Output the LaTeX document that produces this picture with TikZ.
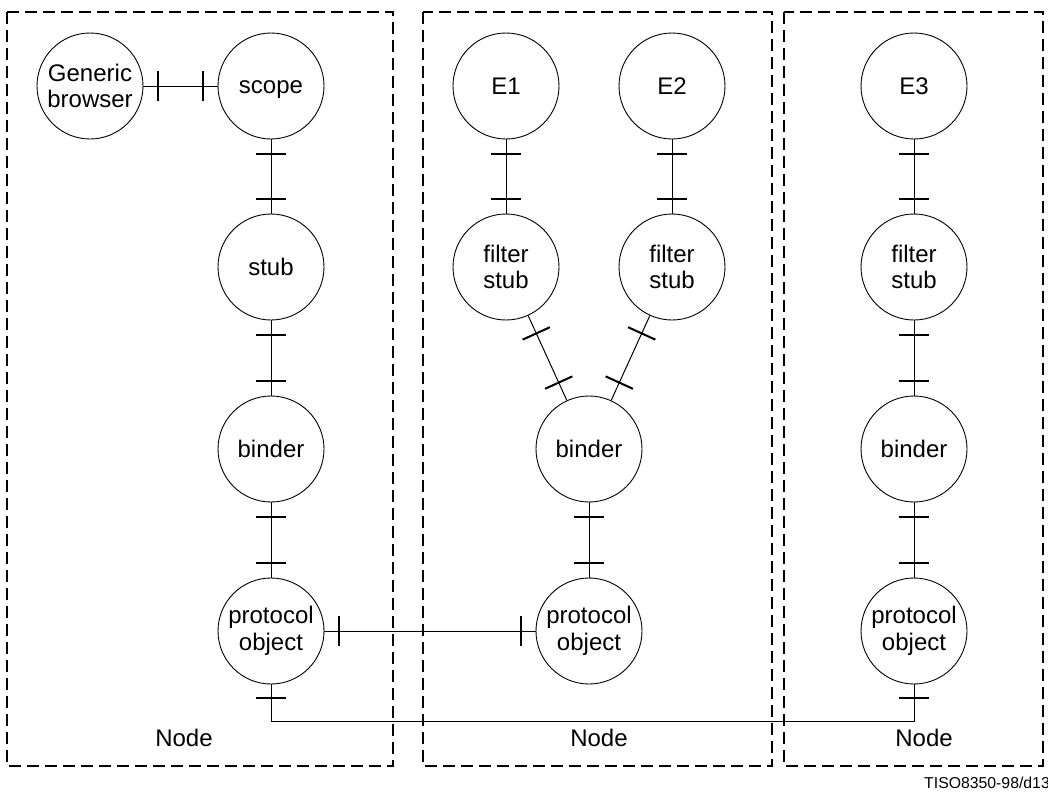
\documentclass[tikz,border=0pt]{standalone}
\usepackage{fontspec}
\setmainfont{Liberation Sans}
\usetikzlibrary{calc}
\tikzset{
  obj/.style={circle, draw, line width=0.9pt, minimum size=106pt, inner sep=0pt, align=center,
    font=\fontsize{24}{26.5}\selectfont},
  link/.style={line width=1pt},
  tickmark/.style={line width=2pt},
  nodebox/.style={draw, line width=2pt, dash pattern=on 12pt off 6pt},
  boxlabel/.style={anchor=base, font=\fontsize{24}{26}\selectfont, inner sep=0pt},
}
\newcommand{\tickat}[3]{% node from, node to, distance
  \coordinate (tk) at ($(#1.center)!#3!(#2.center)$);
  \draw[tickmark] ($(tk)!15pt!90:(#2.center)$) -- ($(tk)!15pt!-90:(#2.center)$);
}
\newcommand{\conn}[3][68pt]{%
  \draw[link] (#2) -- (#3);
  \tickat{#2}{#3}{#1}
  \tickat{#3}{#2}{#1}
}
\begin{document}
\begin{tikzpicture}[x=1pt,y=-1pt]
\useasboundingbox (0,0) rectangle (1048,792);
% dashed boxes
\draw[nodebox] (7,12) rectangle (393,766);
\draw[nodebox] (423,12) rectangle (772,766);
\draw[nodebox] (784,12) rectangle (1043,766);
% objects, box 1
\node[obj] (gb) at (90,86) {Generic\\browser};
\node[obj, text height=15pt, text depth=0pt] (scope) at (271,86) {scope};
\node[obj] (stub) at (271,267) {stub};
\node[obj] (bind1) at (271,449) {binder};
\node[obj] (po1) at (271,631) {protocol\\object};
% box 2
\node[obj] (e1) at (506,86) {E1};
\node[obj] (e2) at (672,86) {E2};
\node[obj] (fs1) at (506,267) {filter\\stub};
\node[obj] (fs2) at (672,267) {filter\\stub};
\node[obj] (bind2) at (589,449) {binder};
\node[obj] (po2) at (589,631) {protocol\\object};
% box 3
\node[obj] (e3) at (914,86) {E3};
\node[obj] (fs3) at (914,267) {filter\\stub};
\node[obj] (bind3) at (914,449) {binder};
\node[obj] (po3) at (914,631) {protocol\\object};
% connectors
\conn{gb}{scope}
\conn{scope}{stub}
\conn{stub}{bind1}
\conn{bind1}{po1}
\conn{e1}{fs1}
\conn{e2}{fs2}
\conn[73pt]{fs1}{bind2}
\conn[73pt]{fs2}{bind2}
\conn{bind2}{po2}
\conn{e3}{fs3}
\conn{fs3}{bind3}
\conn{bind3}{po3}
\conn{po1}{po2}
% bottom connector
\coordinate (bl) at (271,721);
\coordinate (br) at (914,721);
\draw[link] (po1) -- (bl) -- (br) -- (po3);
\tickat{po1}{bl}{67pt}
\tickat{po3}{br}{67pt}
% labels
\node[boxlabel] (n1) at (184,746) {Node};
\node[boxlabel] (n2) at (599,746) {Node};
\node[boxlabel] (n3) at (924,746) {Node};
\node[anchor=base west, inner sep=0pt, font=\fontsize{15.8}{18}\selectfont] (ref) at (924,788) {TISO8350-98/d13};
\end{tikzpicture}
\end{document}
